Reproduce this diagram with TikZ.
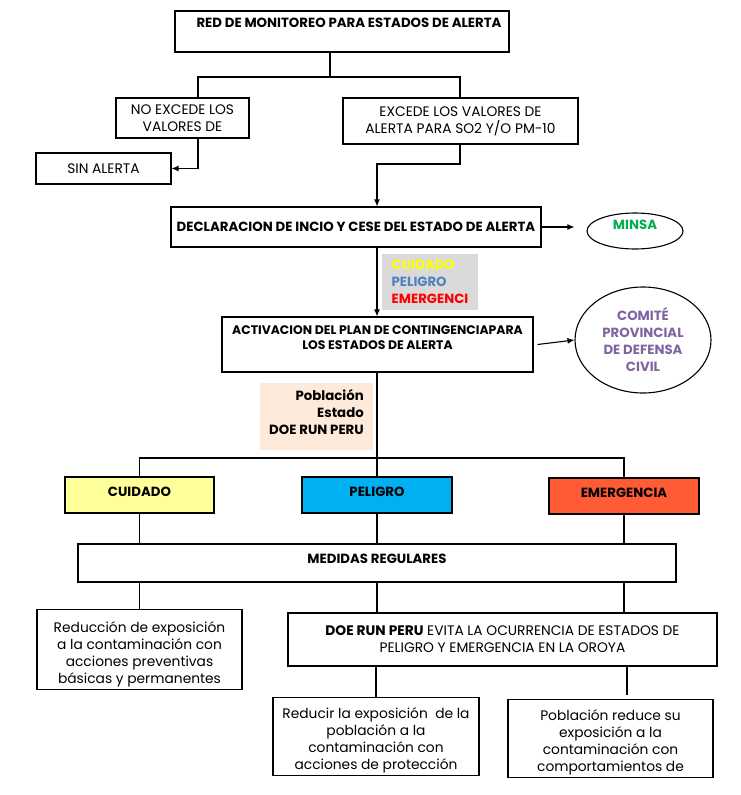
\documentclass[tikz,border=0pt]{standalone}
\usepackage{fontspec}
\setmainfont{Poppins}
\usepackage{xcolor}
\usepackage{tikz}
\usetikzlibrary{arrows.meta, shapes.geometric}

\definecolor{cuidadofill}{HTML}{FFFF99}
\definecolor{peligrofill}{HTML}{00B0F0}
\definecolor{emergfill}{HTML}{FF5B35}
\definecolor{greyfill}{HTML}{DADADA}
\definecolor{peachfill}{HTML}{FDEADA}
\definecolor{cuidadotext}{HTML}{FFFF00}
\definecolor{peligrotext}{HTML}{4F81BD}
\definecolor{emergtext}{HTML}{FF0000}
\definecolor{minsatext}{HTML}{00B050}
\definecolor{comitetext}{HTML}{8064A2}

\newcommand{\padtop}[1]{\rule{0pt}{#1}}

\begin{document}
\begin{tikzpicture}[x=1pt, y=-1pt,
    box/.style={draw, line width=1.1pt, inner sep=2pt, align=center, font=\fontsize{13.8}{17}\selectfont},
    hbox/.style={box, font=\fontsize{13.3}{16.5}\selectfont\bfseries},
    flat/.style={inner sep=2pt, font=\fontsize{13.3}{17}\selectfont\bfseries},
    oval/.style={ellipse, draw, line width=1.1pt, inner sep=0pt, align=center, font=\fontsize{13.3}{17}\selectfont\bfseries},
    arr/.style={line width=1.1pt, -{Latex[length=7pt,width=6pt]}},
    conn/.style={line width=1.1pt}]
    \useasboundingbox (0,0) rectangle (740,795);
    \node[hbox, minimum width=334, minimum height=41, text depth=17pt] (red) at (342,31.5) {\hspace*{14pt}RED DE MONITOREO PARA ESTADOS DE ALERTA};
    \node[box, minimum width=133, minimum height=40] (noexc) at (182.5,118) {NO EXCEDE LOS\\VALORES DE};
    \node[box, minimum width=235, minimum height=46] (exc) at (460.5,121) {EXCEDE LOS VALORES DE\\ALERTA PARA SO2 Y/O PM-10};
    \node[box, minimum width=135, minimum height=31] (sin) at (103.5,168.5) {SIN ALERTA};
    \node[hbox, minimum width=370, minimum height=40] (decl) at (356,227) {DECLARACION DE INCIO Y CESE DEL ESTADO DE ALERTA};
    \node[oval, minimum width=96, minimum height=36, text depth=12pt, text=minsatext] (minsa) at (635,231) {MINSA};
    \node[flat, fill=greyfill, minimum width=96, minimum height=56, align=left] (estados) at (430,282)
        {\textcolor{cuidadotext}{CUIDADO}\\\textcolor{peligrotext}{PELIGRO}\\\textcolor{emergtext}{EMERGENCI}};
    \node[hbox, minimum width=311, minimum height=55, text depth=14pt, font=\fontsize{12.4}{15.5}\selectfont\bfseries] (activ) at (377.5,344.5) {ACTIVACION DEL PLAN DE CONTINGENCIAPARA\\LOS ESTADOS DE ALERTA};
    \node[oval, minimum width=136, minimum height=106, text=comitetext] (comite) at (643,340) {COMITÉ\\PROVINCIAL\\DE DEFENSA\\CIVIL};
    \node[flat, fill=peachfill, minimum width=113, minimum height=67, align=right, text depth=9pt] (actores) at (316.5,416.5) {Población\\Estado\\DOE RUN PERU};
    \node[hbox, fill=cuidadofill, minimum width=149, minimum height=36, text depth=7pt] (cuidado) at (139.5,495) {CUIDADO};
    \node[hbox, fill=peligrofill, minimum width=150, minimum height=36, text depth=7pt] (peligro) at (377,495) {PELIGRO};
    \node[hbox, fill=emergfill, minimum width=150, minimum height=36, text depth=7pt] (emerg) at (624,496) {EMERGENCIA};
    \node[hbox, minimum width=598, minimum height=38, text depth=9pt] (medidas) at (377,563) {MEDIDAS REGULARES};
    \node[box, minimum width=205, minimum height=75] (reduccion) at (139.5,649.5) {\padtop{21pt}Reducción de exposición\\a la contaminación con\\acciones preventivas\\básicas y permanentes};
    \node[box, minimum width=429, minimum height=53] (doe) at (502.5,639.5) {\textbf{DOE RUN PERU} EVITA LA OCURRENCIA DE ESTADOS DE\\PELIGRO Y EMERGENCIA EN LA OROYA};
    \node[box, minimum width=206, minimum height=75] (reducir) at (376,736.5) {\padtop{19pt}Reducir la exposición~ de la\\población a la\\contaminación con\\acciones de protección};
    \node[box, minimum width=205, minimum height=75] (poblacion) at (610.5,738.5) {\padtop{19pt}Población reduce su\\exposición a la\\contaminación con\\comportamientos de};
    \coordinate (split) at (330,77);
    \coordinate (jA) at (198,77);
    \coordinate (jB) at (460,77);
    \coordinate (kA) at (460,164);
    \coordinate (kB) at (377,164);
    \coordinate (m) at (377,458);
    \draw[conn] (red.south -| split) -- (split);
    \draw[conn] (noexc.north -| jA) -- (jA) -- (jB) -- (exc.north -| jB);
    \draw[arr] (noexc.south -| jA) |- (sin.east);
    \draw[arr] (exc.south -| kA) -- (kA) -- (kB) -- (decl.north -| kB);
    \draw[arr, shorten >=12pt] (decl.east) -- (decl.east -| minsa.west);
    \draw[arr] (decl.south -| kB) -- (activ.north -| kB);
    \draw[arr] ([xshift=4pt]activ.east) -- (comite.west);
    \draw[conn] (activ.south -| m) -- (m);
    \draw[conn] (cuidado.north) |- (m) -| (emerg.north);
    \draw[conn] (m) -- (peligro.north);
    \foreach \n in {cuidado,peligro,emerg}
    {
        \draw[conn] (\n.south) -- (\n.south |- medidas.north);
    }
    \draw[conn] (medidas.south -| reduccion.north) -- (reduccion.north);
    \draw[conn] (medidas.south -| peligro.south) -- (doe.north -| peligro.south);
    \draw[conn] (medidas.south -| emerg.south) -- (doe.north -| emerg.south);
    \draw[conn] (doe.south -| reducir.north) -- (reducir.north);
    \draw[conn, shorten >=4pt] (doe.south -| 627,0) -- (poblacion.north -| 627,0);
\end{tikzpicture}
\end{document}
